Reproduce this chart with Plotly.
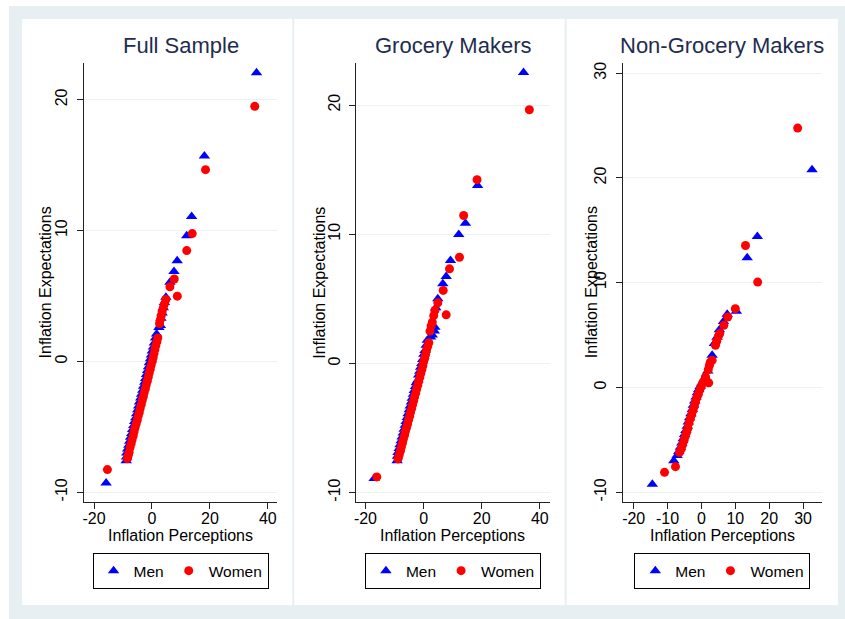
import plotly.graph_objects as go

W, H = 845, 619

panel_titles = ["Full Sample", "Grocery Makers", "Non-Grocery Makers"]
x_title = "Inflation Perceptions"
y_title = "Inflation Expectations"
series_names = ["Men", "Women"]

# ---------------- Full Sample ----------------
full_men_x = [-15.85, -8.9, -8.8, -8.7, -8.4, -8.0, -7.7, -7.4, -7.0, -6.7, -6.3, -6.0, -5.6,
              -5.3, -4.9, -4.6, -4.3, -3.9, -3.6, -3.2, -2.9, -2.5, -2.2, -1.9, -1.5, -1.2,
              -0.9, -0.5, -0.2, 0.1, 0.5, 0.8, 1.2, 1.6, 2.4, 2.9, 3.1, 3.5, 3.9, 4.3, 4.8,
              6.2, 7.6, 8.7, 12.0, 13.7, 18.1, 36.1]
full_men_y = [-9.29, -7.6, -7.3, -7.0, -6.7, -6.4, -6.1, -5.8, -5.5, -5.2, -4.9, -4.6, -4.3,
              -4.0, -3.7, -3.4, -3.1, -2.8, -2.5, -2.2, -1.9, -1.6, -1.3, -1.0, -0.7, -0.4,
              -0.1, 0.2, 0.5, 0.8, 1.1, 1.4, 1.8, 2.1, 2.6, 2.75, 3.3, 3.7, 4.1, 4.5, 4.9,
              6.05, 6.87, 7.7, 9.6, 11.07, 15.7, 22.06]
full_women_x = [-15.4, -8.5, -8.2, -7.9, -7.6, -7.2, -6.9, -6.5, -6.2, -5.9, -5.5, -5.1, -4.8,
                -4.4, -4.1, -3.7, -3.4, -3.0, -2.7, -2.3, -2.0, -1.6, -1.3, -1.0, -0.6, -0.3,
                0.1, 0.4, 0.7, 1.0, 1.3, 1.7, 2.0, 2.6, 2.9, 3.2, 3.5, 3.9, 4.3, 4.8,
                6.2, 7.7, 8.75, 12.0, 13.9, 18.5, 35.5]
full_women_y = [-8.27, -7.43, -7.2, -6.95, -6.6, -6.3, -6.0, -5.7, -5.4, -5.1, -4.8, -4.5, -4.2,
                -3.9, -3.6, -3.3, -3.0, -2.7, -2.4, -2.1, -1.8, -1.5, -1.2, -0.9, -0.6, -0.3,
                0.0, 0.3, 0.6, 0.9, 1.2, 1.5, 1.8, 2.9, 3.2, 3.5, 3.8, 4.1, 4.4, 4.73,
                5.7, 6.3, 4.99, 8.47, 9.77, 14.66, 19.5]

# ---------------- Grocery Makers ----------------
groc_men_x = [-17.0, -9.1, -9.0, -8.8, -8.4, -8.1, -7.7, -7.4, -7.0, -6.7, -6.3, -6.0, -5.6,
              -5.3, -4.9, -4.6, -4.2, -3.9, -3.5, -3.2, -2.8, -2.5, -2.0, -1.7, -1.3, -1.0,
              -0.6, -0.3, 0.1, 0.5, 0.9, 1.3, 2.4, 3.0, 3.7, 3.9, 4.2, 4.9, 6.63, 7.78,
              9.26, 12.1, 14.4, 18.6, 34.4]
groc_men_y = [-8.92, -7.55, -7.2, -6.9, -6.6, -6.3, -6.0, -5.7, -5.4, -5.1, -4.8, -4.5, -4.2,
              -3.9, -3.6, -3.3, -3.0, -2.7, -2.4, -2.1, -1.8, -1.5, -1.31, -0.9, -0.6, -0.3,
              0.0, 0.3, 0.7, 1.0, 1.4, 1.8, 2.04, 2.2, 2.5, 2.8, 4.3, 5.0, 6.16, 6.73,
              7.97, 9.98, 10.85, 13.77, 22.53]
groc_women_x = [-16.1, -8.8, -8.4, -8.0, -7.7, -7.3, -7.0, -6.6, -6.3, -5.9, -5.5, -5.2, -4.8,
                -4.5, -4.1, -3.8, -3.4, -3.1, -2.7, -2.4, -2.0, -1.7, -1.3, -1.0, -0.6, -0.3,
                0.0, 0.4, 0.7, 1.0, 1.4, 1.8, 2.2, 2.6, 3.0, 3.5, 3.9, 4.9, 7.78, 6.75,
                8.92, 12.35, 13.8, 18.4, 36.4]
groc_women_y = [-8.79, -7.4, -7.1, -6.8, -6.5, -6.2, -5.9, -5.6, -5.3, -5.0, -4.7, -4.4, -4.1,
                -3.8, -3.5, -3.2, -2.9, -2.6, -2.3, -2.0, -1.7, -1.4, -1.1, -0.8, -0.5, -0.2,
                0.1, 0.4, 0.7, 1.0, 1.3, 1.6, 2.5, 2.9, 3.2, 3.7, 4.1, 4.69, 3.76, 5.65,
                7.32, 8.22, 11.45, 14.23, 19.64]

# ---------------- Non-Grocery Makers ----------------
nong_men_x = [-14.5, -8.17, -7.2, -6.7, -6.2, -5.8, -5.4, -5.0, -4.6, -4.2, -3.9, -3.5, -3.1,
              -2.7, -2.4, -2.0, -1.6, -1.2, -0.8, -0.4, 0.1, 0.8, 1.87, 3.15, 3.8, 4.6,
              5.3, 6.5, 7.6, 10.3, 13.5, 16.5, 32.65]
nong_men_y = [-9.24, -6.99, -6.5, -6.1, -5.7, -5.3, -4.9, -4.5, -4.1, -3.7, -3.3, -2.9, -2.5,
              -2.1, -1.7, -1.3, -0.9, -0.5, -0.2, 0.1, 0.4, 0.8, 1.58, 3.08, 4.2, 4.8,
              5.5, 6.3, 6.98, 7.27, 12.38, 14.41, 20.79]
nong_women_x = [-10.9, -7.67, -6.5, -6.0, -5.6, -5.2, -4.8, -4.4, -4.0, -3.7, -3.3, -2.9, -2.5,
                -2.1, -1.8, -1.4, -1.0, -0.6, -0.2, 0.2, 0.7, 1.2, 2.15, 1.18, 2.0, 2.36,
                2.6, 3.15, 4.13, 4.5, 5.0, 5.4, 6.6, 7.77, 10.0, 16.6, 13.0, 28.4]
nong_women_y = [-8.1, -7.56, -6.2, -5.9, -5.5, -5.1, -4.7, -4.3, -3.9, -3.4, -3.0, -2.6, -2.2,
                -1.8, -1.4, -1.0, -0.7, -0.3, 0.0, 0.3, 0.6, 0.9, 0.44, 1.01, 1.7, 2.12,
                2.4, 2.6, 4.03, 4.4, 4.9, 5.14, 5.93, 6.73, 7.52, 10.06, 13.55, 24.76]

x_ticks = [[-20, 0, 20, 40], [-20, 0, 20, 40], [-20, -10, 0, 10, 20, 30]]
y_ticks = [[-10, 0, 10, 20], [-10, 0, 10, 20], [-10, 0, 10, 20, 30]]

panels = [
    (full_men_x, full_men_y, full_women_x, full_women_y),
    (groc_men_x, groc_men_y, groc_women_x, groc_women_y),
    (nong_men_x, nong_men_y, nong_women_x, nong_women_y),
]

# layout geometry (pixels)
plot_left = [82, 355, 622]
plot_right = [276, 549, 822]
plot_top, plot_bottom = 62, 502
x_ranges = [[-23.55, 43.3], [-23.2, 43.4], [-23.3, 35.6]]
y_ranges = [[-10.76, 22.82], [-10.75, 23.27], [-10.95, 30.98]]
ytitle_x = [44, 318, 591]
panel_rects = [(20, 291), (293, 564), (566, 838)]

FONT = "Liberation Sans, Arial, sans-serif"
TITLE_COLOR = "#1e2d4f"
MEN_COLOR = "#0000ff"
WOMEN_COLOR = "#ff0000"


def fx(px):
    return px / W


def fy(py):
    return 1 - py / H


fig = go.Figure()
layout = dict(
    width=W, height=H,
    margin=dict(l=0, r=0, t=0, b=0),
    paper_bgcolor="white",
    plot_bgcolor="rgba(0,0,0,0)",
    font=dict(family=FONT, size=16, color="black"),
    showlegend=True,
)

shapes = [dict(type="rect", xref="paper", yref="paper", x0=fx(7), x1=fx(845), y0=fy(619), y1=fy(5),
               fillcolor="#e8eff2", line=dict(width=0), layer="below")]
for (a, b) in panel_rects:
    shapes.append(dict(type="rect", xref="paper", yref="paper", x0=fx(a), x1=fx(b), y0=fy(605), y1=fy(18),
                       fillcolor="white", line=dict(width=0), layer="below"))
annotations = []

for i, (mx, my, wx, wy) in enumerate(panels):
    sfx = "" if i == 0 else str(i + 1)
    leg = "legend" if i == 0 else "legend" + str(i + 1)
    xa, ya = "x" + sfx, "y" + sfx
    fig.add_trace(go.Scatter(x=mx, y=my, mode="markers", name=series_names[0], xaxis=xa, yaxis=ya,
                             legend=leg, marker=dict(symbol="triangle-up", size=10, color=MEN_COLOR,
                                                     line=dict(width=0))))
    fig.add_trace(go.Scatter(x=wx, y=wy, mode="markers", name=series_names[1], xaxis=xa, yaxis=ya,
                             legend=leg, marker=dict(symbol="circle", size=9, color=WOMEN_COLOR,
                                                     line=dict(width=0))))
    layout["xaxis" + sfx] = dict(
        domain=[fx(plot_left[i]), fx(plot_right[i])], range=x_ranges[i], anchor=ya,
        showline=True, linecolor="#222222", linewidth=1, ticks="outside", ticklen=6,
        tickcolor="#222222", tickwidth=1, showgrid=False, zeroline=False,
        tickvals=x_ticks[i], ticktext=[str(v) for v in x_ticks[i]],
        tickfont=dict(size=16, color="black", family=FONT), ticklabelstandoff=-4,
    )
    layout["yaxis" + sfx] = dict(
        domain=[fy(plot_bottom), fy(plot_top)], range=y_ranges[i], anchor=xa,
        showline=True, linecolor="#222222", linewidth=1, ticks="outside", ticklen=6,
        tickcolor="#222222", tickwidth=1, showgrid=True, gridcolor="#eaf2f3", gridwidth=1,
        zeroline=False, tickangle=-90,
        tickvals=y_ticks[i], ticktext=[str(v) for v in y_ticks[i]],
        tickfont=dict(size=16, color="black", family=FONT), ticklabelstandoff=3,
    )
    cx = (plot_left[i] + plot_right[i]) / 2
    annotations.append(dict(text=panel_titles[i], xref="paper", yref="paper", x=fx(cx), y=fy(45),
                            xanchor="center", yanchor="middle", showarrow=False,
                            font=dict(size=22, color=TITLE_COLOR, family=FONT)))
    annotations.append(dict(text=x_title, xref="paper", yref="paper", x=fx(cx), y=fy(535),
                            xanchor="center", yanchor="middle", showarrow=False,
                            font=dict(size=16, color="black", family=FONT)))
    annotations.append(dict(text=y_title, xref="paper", yref="paper", x=fx(ytitle_x[i]),
                            y=fy((plot_top + plot_bottom) / 2), textangle=-90,
                            xanchor="center", yanchor="middle", showarrow=False,
                            font=dict(size=16, color="black", family=FONT)))
    layout[leg] = dict(
        orientation="h", x=fx(cx), xanchor="center", y=fy(553), yanchor="top",
        bgcolor="white", bordercolor="black", borderwidth=1,
        font=dict(size=15.5, color="black", family=FONT),
        itemclick=False, itemdoubleclick=False,
    )

layout["shapes"] = shapes
layout["annotations"] = annotations
fig.update_layout(**layout)
fig.write_html("out.html", config={"displayModeBar": False},
               post_script="document.body.style.margin='0';document.body.style.overflow='hidden';")
